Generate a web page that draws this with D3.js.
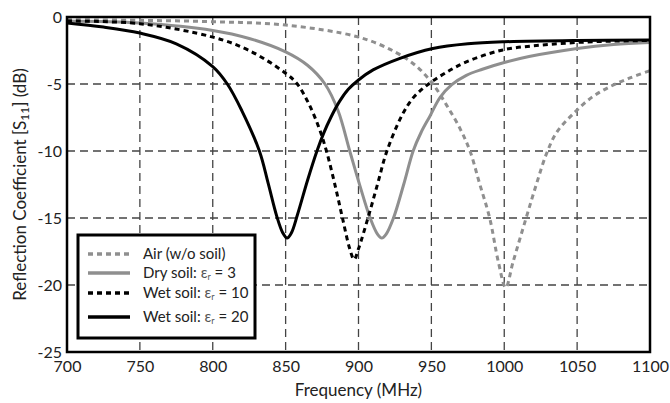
<!DOCTYPE html>
<html lang="en">
<head>
  <meta charset="UTF-8">
  <title>Reflection Coefficient</title>
  <script src="https://d3js.org/d3.v7.min.js"></script>
  <style>
    body {
      margin: 0;
      background: #fff;
      font-family: Lato, "Open Sans", sans-serif;
    }
  </style>
</head>
<body>
  <div id="chart"></div>

  <script>
    // values: [frequency MHz, dB]
    const airSeries = [
      [700, -0.2], [750, -0.25], [800, -0.35], [850, -0.6], [900, -1.5], [925, -2.6],
      [940, -3.7], [951, -5.0], [960, -6.5], [970, -8.4], [976.5, -10.0], [983, -12.4],
      [990, -15.0], [996, -18.3], [1001, -20.2], [1006, -18.3], [1015, -15.0], [1022, -12.5],
      [1029, -10.2], [1036, -8.6], [1047.5, -7.2], [1060, -6.0], [1072.5, -5.2], [1085, -4.6], [1100, -4.0]
    ];
    const drySeries = [
      [700, -0.3], [750, -0.45], [800, -1.0], [825, -1.6], [850, -2.6], [865, -3.6],
      [877, -5.0], [886, -7.0], [894, -10.0], [901, -12.6], [908, -15.0], [913, -16.2],
      [916, -16.5], [919, -16.2], [924, -15.0], [931, -12.5], [937.5, -10.0], [943, -8.6],
      [949, -7.4], [956, -6.0], [964, -5.05], [974, -4.35], [985, -3.9], [1000, -3.4],
      [1017, -2.95], [1050, -2.35], [1075, -2.05], [1100, -1.9]
    ];
    const wet10Series = [
      [700, -0.3], [750, -0.5], [800, -1.5], [825, -2.5], [850, -4.2], [858, -5.0],
      [866, -6.5], [873, -8.3], [878, -10.0], [884, -12.6], [889, -15.0], [894, -17.3],
      [897, -18.1], [900, -17.3], [906.5, -15.0], [913, -12.5], [919.5, -10.0], [930, -7.3],
      [937, -6.1], [944, -5.35], [950, -4.85], [960, -4.15], [974, -3.35], [999, -2.46],
      [1025, -2.1], [1050, -1.9], [1075, -1.8], [1100, -1.75]
    ];
    const wet20Series = [
      [700, -0.45], [725, -0.75], [750, -1.2], [775, -2.0], [800, -3.7], [810, -5.0],
      [820, -7.0], [832, -10.0], [838, -12.4], [844, -14.9], [848, -16.1], [851, -16.5],
      [854, -16.1], [858, -14.8], [865, -12.2], [871.5, -10.0], [876, -8.7], [881, -7.5],
      [887, -6.3], [893, -5.4], [900, -4.7], [910, -3.95], [928, -3.1], [951, -2.35],
      [975, -2.0], [1000, -1.85], [1050, -1.75], [1100, -1.72]
    ];

    const xTicks = [700, 750, 800, 850, 900, 950, 1000, 1050, 1100];
    const yTicks = [0, -5, -10, -15, -20, -25];

    const seriesNames = ["Air (w/o soil)", "Dry soil: ", "Wet soil: ", "Wet soil: "];
    const seriesEps = [null, "3", "10", "20"];
    const seriesData = [airSeries, drySeries, wet10Series, wet20Series];
    const seriesColor = ["#8f8f8f", "#8f8f8f", "#000", "#000"];
    const seriesDash = ["5,4", null, "5,4", null];

    const width = 670, height = 403;
    const margin = {top: 17, right: 20, bottom: 51, left: 67};

    const svg = d3.select("#chart").append("svg")
      .attr("width", width)
      .attr("height", height);

    const x = d3.scaleLinear().domain([700, 1100]).range([margin.left, width - margin.right]);
    const y = d3.scaleLinear().domain([-25, 0]).range([height - margin.bottom, margin.top]);

    // grid
    svg.append("g")
      .selectAll("line")
      .data(xTicks.slice(1, -1))
      .join("line")
      .attr("x1", d => x(d)).attr("x2", d => x(d))
      .attr("y1", y(0)).attr("y2", y(-25))
      .attr("stroke", "#444")
      .attr("stroke-width", 1.3)
      .attr("stroke-dasharray", "8,5");

    svg.append("g")
      .selectAll("line")
      .data(yTicks.slice(1, -1))
      .join("line")
      .attr("x1", x(700)).attr("x2", x(1100))
      .attr("y1", d => y(d)).attr("y2", d => y(d))
      .attr("stroke", "#444")
      .attr("stroke-width", 1.3)
      .attr("stroke-dasharray", "8,5");

    // axes
    const xAxis = svg.append("g")
      .attr("transform", `translate(0,${y(-25)})`)
      .call(d3.axisBottom(x).tickValues(xTicks).tickFormat(d => String(d)).tickSize(0).tickPadding(9));
    const yAxis = svg.append("g")
      .attr("transform", `translate(${x(700)},0)`)
      .call(d3.axisLeft(y).tickValues(yTicks).tickFormat(d => String(d)).tickSize(0).tickPadding(5));
    [xAxis, yAxis].forEach(a => {
      a.select(".domain").remove();
      a.selectAll("text")
        .attr("font-family", "Lato, 'Open Sans', sans-serif")
        .attr("font-size", 16)
        .attr("fill", "#222");
    });

    // curves
    const line = d3.line()
      .x(d => x(d[0]))
      .y(d => y(d[1]))
      .curve(d3.curveCatmullRom.alpha(0.5));

    const plot = svg.append("g");
    seriesData.forEach((s, i) => {
      plot.append("path")
        .datum(s)
        .attr("d", line)
        .attr("fill", "none")
        .attr("stroke", seriesColor[i])
        .attr("stroke-width", 3)
        .attr("stroke-dasharray", seriesDash[i]);
    });

    // frame
    svg.append("rect")
      .attr("x", x(700)).attr("y", y(0))
      .attr("width", x(1100) - x(700))
      .attr("height", y(-25) - y(0))
      .attr("fill", "none")
      .attr("stroke", "#000")
      .attr("stroke-width", 2.5);

    // axis titles
    svg.append("text")
      .attr("x", (x(700) + x(1100)) / 2)
      .attr("y", 396)
      .attr("text-anchor", "middle")
      .attr("font-size", 17)
      .attr("fill", "#222")
      .text("Frequency (MHz)");

    const yTitle = svg.append("text")
      .attr("transform", `translate(26,${(y(0) + y(-25)) / 2}) rotate(-90)`)
      .attr("text-anchor", "middle")
      .attr("font-size", 17)
      .attr("fill", "#222");
    yTitle.append("tspan").text("Reflection Coefficient [S");
    yTitle.append("tspan").attr("baseline-shift", "-3").attr("font-size", 12).text("11");
    yTitle.append("tspan").text("] (dB)");

    // legend
    const legend = svg.append("g").attr("transform", "translate(78,235)");
    legend.append("rect")
      .attr("width", 177).attr("height", 103)
      .attr("fill", "#fff")
      .attr("stroke", "#000")
      .attr("stroke-width", 3);

    const rowY = [19, 38, 58, 82];
    seriesNames.forEach((name, i) => {
      legend.append("line")
        .attr("x1", 10).attr("x2", 52)
        .attr("y1", rowY[i]).attr("y2", rowY[i])
        .attr("stroke", seriesColor[i])
        .attr("stroke-width", 3.5)
        .attr("stroke-dasharray", seriesDash[i]);
      const t = legend.append("text")
        .attr("x", 65).attr("y", rowY[i])
        .attr("dy", "0.35em")
        .attr("font-size", 15)
        .attr("fill", "#222");
      t.append("tspan").text(name);
      if (seriesEps[i]) {
        t.append("tspan").attr("fill", "#555").text("ε");
        t.append("tspan").attr("baseline-shift", "-2").attr("font-size", 9).attr("fill", "#555").text("r");
        t.append("tspan").text(" = " + seriesEps[i]);
      }
    });
  </script>
</body>
</html>
